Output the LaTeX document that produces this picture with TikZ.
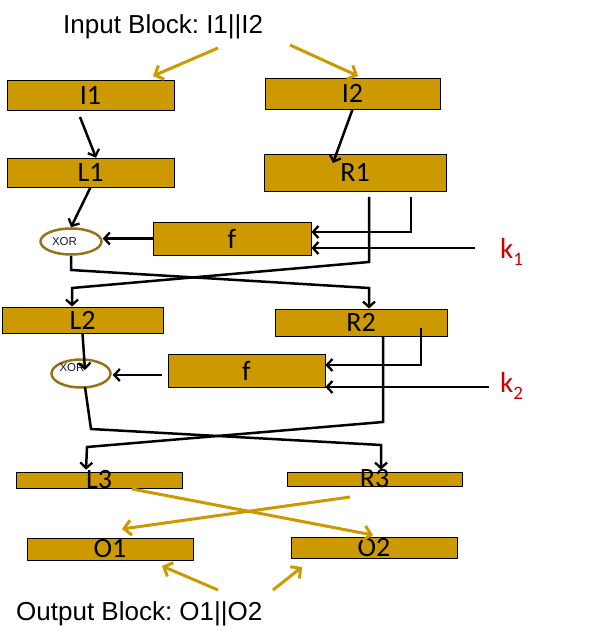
\documentclass[tikz,border=0pt]{standalone}
\usepackage{fontspec}
\setmainfont{Liberation Sans}
\newfontfamily\calfont{Carlito}
\usetikzlibrary{arrows.meta,shapes.geometric,calc}
\definecolor{gold}{RGB}{204,153,0}
\definecolor{ringc}{RGB}{150,115,25}
\definecolor{kred}{RGB}{204,0,0}
\definecolor{xorc}{RGB}{20,20,60}
\frenchspacing
\begin{document}
\begin{tikzpicture}[x=1pt,y=-1pt,
  gbox/.style={draw=black,line width=0.8pt,fill=gold,inner sep=0pt,rectangle},
  lbl/.style={font=\calfont\fontsize{28}{30}\selectfont,inner sep=0pt},
  big/.style={font=\fontsize{26}{28}\selectfont,inner sep=0pt,anchor=base west},
  klbl/.style={font=\calfont\fontsize{29}{30}\selectfont,text=kred,inner sep=0pt,anchor=base west},
  blk/.style={draw=black,line width=2.5pt},
  blkar/.style={blk,-{Straight Barb[length=5.5pt,width=12pt,line width=2.3pt]}},
  goldar/.style={draw=gold,line width=3pt,-{Straight Barb[length=7pt,width=15pt,line width=3pt]}},
  xring/.style={ellipse,draw=ringc,line width=2.5pt,fill=white,inner sep=0pt},
  xtxt/.style={font=\fontsize{11.5}{12}\selectfont,text=xorc,inner sep=0pt}
]
\useasboundingbox (0,0) rectangle (590,644);

% texts
\node[big] (inp) at (63,34) {Input Block: I1||I2};
\node[big] (outp) at (16,620) {Output Block: O1||O2};

% boxes
\node[gbox,minimum width=167pt,minimum height=30pt] (I1) at (90.5,95) {};
\node[gbox,minimum width=175pt,minimum height=31pt] (I2) at (352.5,93.5) {};
\node[gbox,minimum width=167pt,minimum height=29pt] (L1) at (90.5,172.5) {};
\node[gbox,minimum width=182pt,minimum height=37pt] (R1) at (355,172.5) {};
\node[gbox,minimum width=158pt,minimum height=33pt] (f1) at (232,238.5) {};
\node[gbox,minimum width=161pt,minimum height=26pt] (L2) at (82.5,320) {};
\node[gbox,minimum width=172pt,minimum height=27pt] (R2) at (361,322.5) {};
\node[gbox,minimum width=157pt,minimum height=33pt] (f2) at (246.5,370.5) {};
\node[gbox,minimum width=166pt,minimum height=16pt] (L3) at (99,480) {};
\node[gbox,minimum width=175pt,minimum height=14pt] (R3) at (374.5,479) {};
\node[gbox,minimum width=166pt,minimum height=22pt] (O1) at (110,549) {};
\node[gbox,minimum width=166pt,minimum height=21pt] (O2) at (374,547.5) {};

\node[lbl] (I1t) at (I1.center) {I1};
\node[lbl] (I2t) at (I2.center) {I2};
\node[lbl] (L1t) at (L1.center) {L1};
\node[lbl] (R1t) at (R1.center) {R1};
\node[lbl] (f1t) at (f1.center) {f};
\node[lbl] (L2t) at (L2.center) {L2};
\node[lbl] (R2t) at (R2.center) {R2};
\node[lbl] (f2t) at (f2.center) {f};
\node[lbl] (L3t) at (L3.center) {L3};
\node[lbl] (R3t) at (R3.center) {R3};
\node[lbl] (O1t) at (O1.center) {O1};
\node[lbl] (O2t) at (O2.center) {O2};

% XOR rings
\node[xring,minimum width=61pt,minimum height=26pt] (X1) at (71,241.5) {};
\node[xtxt] (X1t) at (64.5,242) {XOR};
\node[xring,minimum width=59pt,minimum height=28pt] (X2) at (81,373.5) {};
\node[xtxt] (X2t) at (72,368) {XOR};

% keys
\node[klbl] (k1) at (500,258) {k\raisebox{-7pt}{\fontsize{19}{19}\selectfont 1}};
\node[klbl] (k2) at (500,392) {k\raisebox{-7pt}{\fontsize{19}{19}\selectfont 2}};

% coordinates
\coordinate (a1) at (80,117);
\coordinate (b1) at (333,163);
\coordinate (c1) at (411,197);
\coordinate (k1s) at (475,248);
\coordinate (d1) at (369,197);
\coordinate (d2) at (369,262);
\coordinate (d3) at (72,288);
\coordinate (e1) at (71,270);
\coordinate (e2) at (369,288);
\coordinate (g1) at (85,370);
\coordinate (h1) at (421,328);
\coordinate (k2s) at (489,387);
\coordinate (n1) at (383,422);
\coordinate (n2) at (87,447);
\coordinate (m0) at (85,387);
\coordinate (m1) at (91,429);
\coordinate (m2) at (381,445);
\coordinate (ia) at (218,48);
\coordinate (ib) at (153,76);
\coordinate (ic) at (290,45);
\coordinate (id) at (358,76);
\coordinate (pa) at (132,489);
\coordinate (pb) at (373,535);
\coordinate (qa) at (350,497);
\coordinate (qb) at (122,529);
\coordinate (oa) at (218,590);
\coordinate (ob) at (162,566);
\coordinate (oc) at (273,590);
\coordinate (od) at (302,567);

% gold arrows
\draw[goldar] (ia) -- (ib);
\draw[goldar] (ic) -- (id);
\draw[goldar] (pa) -- (pb);
\draw[goldar] (qa) -- (qb);
\draw[goldar] (oa) -- (ob);
\draw[goldar] (oc) -- (od);

% black arrows, round 1
\draw[blkar] (a1) -- ([xshift=5.5pt]L1.north);
\draw[blkar] (I2.south) -- (b1);
\draw[blkar] (L1.south) -- (X1.north);
\draw[blkar] (c1) |- ([yshift=6.5pt]f1.east);
\draw[blkar] (k1s) -- ([yshift=-9.5pt]f1.east);
\draw[blkar] (f1.west) -- (f1.west -| X1.east);
\draw[blkar] (d1) -- (d2) -- (d3) -- ([xshift=-10.5pt]L2.north);
\draw[blkar] (X1.south) -- (e1) -- (e2) -- ([xshift=8pt]R2.north);

% round 2
\draw[blkar] (L2.south) -- (g1);
\draw[blkar] (h1) |- ([yshift=5.5pt]f2.east);
\draw[blkar] (k2s) -- ([yshift=-16.5pt]f2.east);
\draw[blkar] ($(f2.west)+(-6,4.5)$) -- ($(X2.east)+(1,1.5)$);
\draw[blkar] ([xshift=22pt]R2.south) -- (n1) -- (n2) -- ([xshift=-13pt,yshift=2pt]L3.north);
\draw[blkar] (m0) -- (m1) -- (m2) -- ([xshift=6.5pt,yshift=2pt]R3.north);
\end{tikzpicture}
\end{document}
